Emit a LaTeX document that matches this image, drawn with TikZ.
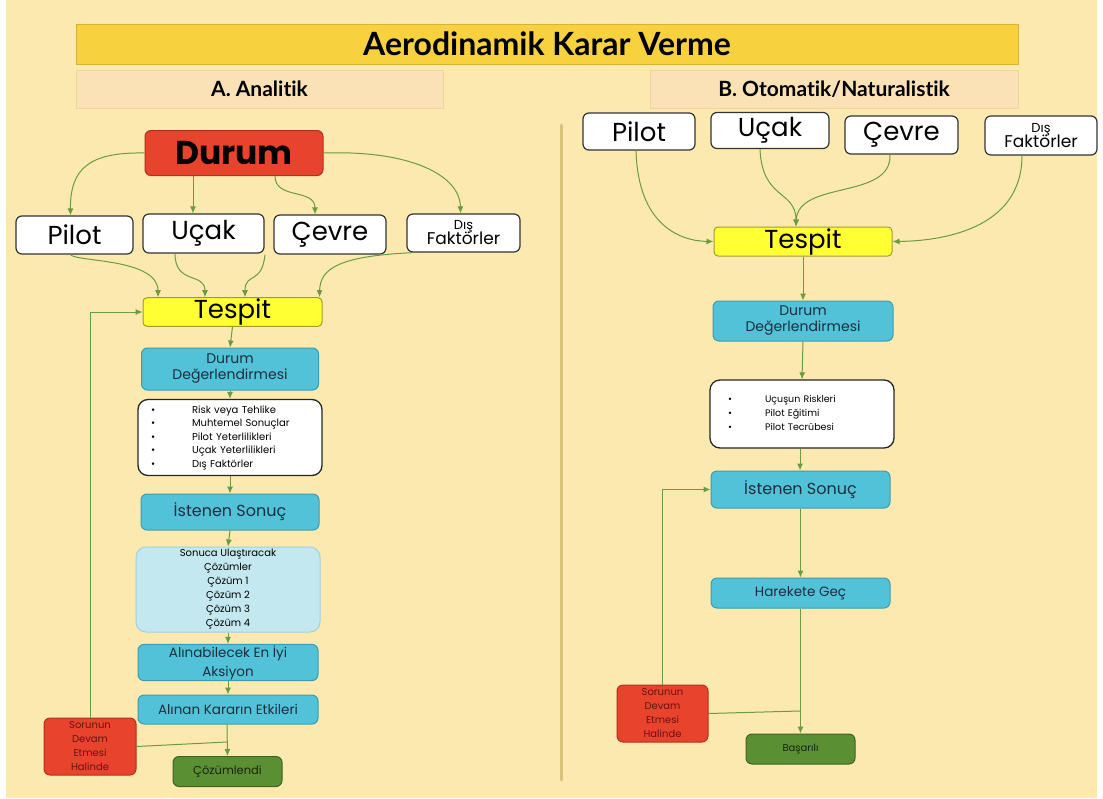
\documentclass[tikz,border=0pt]{standalone}
\usepackage{fontspec}
\usepackage{graphicx}
\setmainfont{Poppins}
\newfontfamily\hfont[Ligatures=NoCommon]{Lato}
\usetikzlibrary{arrows.meta,calc}
\definecolor{bgc}{HTML}{FBE9AF}
\definecolor{titlec}{HTML}{F7D23E}
\definecolor{titleb}{HTML}{D8B232}
\definecolor{subc}{HTML}{FAE2B6}
\definecolor{subb}{HTML}{EFD49C}
\definecolor{redc}{HTML}{E8432C}
\definecolor{redb}{HTML}{B3301E}
\definecolor{redt}{HTML}{6A1212}
\definecolor{cyanc}{HTML}{52C2D8}
\definecolor{cyanb}{HTML}{3A9CB2}
\definecolor{navy}{HTML}{1C2E3E}
\definecolor{lbc}{HTML}{C4E8F0}
\definecolor{lbb}{HTML}{9ED2DF}
\definecolor{yelc}{HTML}{FFFF33}
\definecolor{yelb}{HTML}{9C9C32}
\definecolor{grnc}{HTML}{5B8F34}
\definecolor{grnb}{HTML}{3C6420}
\definecolor{grnt}{HTML}{18260C}
\definecolor{arrc}{HTML}{6C9A3E}
\definecolor{divc}{HTML}{D9C27A}
\begin{document}
\begin{tikzpicture}[x=1pt,y=-1pt,
  box/.style={rounded corners=6pt, line width=1pt, inner sep=1pt, align=center},
  wbox/.style={box, fill=white, draw=black!80, line width=1.2pt},
  cbox/.style={box, fill=cyanc, draw=cyanb, text=navy},
  rbox/.style={box, fill=redc, draw=redb, text=redt},
  gbox/.style={box, fill=grnc, draw=grnb, text=grnt},
  ybox/.style={box, fill=yelc, draw=yelb, rounded corners=4pt},
  lbox/.style={box, fill=lbc, draw=lbb, text=black, rounded corners=10pt},
  listbox/.style={box, fill=white, draw=black!85, line width=1.3pt, rounded corners=10pt, align=left, text=black},
  hdr/.style={fill=subc, draw=subb, line width=0.8pt, font=\hfont\bfseries\fontsize{21}{24}\selectfont, text=black},
  arr/.style={draw=arrc, line width=1pt, -{Latex[length=7pt,width=6pt]}},
  ln/.style={draw=arrc, line width=1pt},
  big/.style={font=\fontsize{26}{30}\selectfont},
  mid/.style={font=\fontsize{14}{16}\selectfont},
  small/.style={font=\fontsize{10}{14}\selectfont}]
\useasboundingbox (0,0) rectangle (1103,798);
\fill[white] (0,0) rectangle (1103,798);
\fill[bgc] (6,0) rectangle (1097,798);

% headers
\node[fill=titlec, draw=titleb, line width=0.8pt, minimum width=942pt, minimum height=40pt,
  font=\hfont\bfseries\fontsize{32}{36}\selectfont] (title) at (547,44) {Aerodinamik Karar Verme};
\node[hdr, minimum width=367pt, minimum height=38pt] (hA) at (259.5,89) {A. Analitik};
\node[hdr, minimum width=368pt, minimum height=38pt] (hB) at (834,89) {B. Otomatik/Naturalistik};

% divider
\draw[divc, line width=3pt, line cap=round] (561,125) -- (561,780);

% ---------------- Left (A) ----------------
\node[rbox, text=black, minimum width=178pt, minimum height=45pt, font=\bfseries\fontsize{33}{36}\selectfont] (durL) at (234,153) {Durum};
\node[wbox, big, minimum width=117pt, minimum height=38pt] (pilL) at (74.5,235) {Pilot};
\node[wbox, big, minimum width=121pt, minimum height=39pt] (ucaL) at (203.5,233.5) {Uçak};
\node[wbox, big, minimum width=112pt, minimum height=39pt] (cevL) at (330,234.5) {Çevre};
\node[wbox, minimum width=113pt, minimum height=38pt] (disL) at (463.5,233)
  {{\fontsize{13}{13}\selectfont Dış}\\[-2pt]{\fontsize{17}{18}\selectfont Faktörler}};
\node[ybox, big, minimum width=179pt, minimum height=28pt] (tesL) at (232.5,312) {Tespit};
\node[cbox, mid, minimum width=177pt, minimum height=42pt] (ddL) at (230,369) {Durum\\Değerlendirmesi};
\node[listbox, minimum width=184pt, text width=176pt, minimum height=70pt, inner sep=4pt,
  font=\fontsize{10}{13.6}\selectfont] (lsL) at (230,437.5)
  {\begin{tabular}{@{\hspace{9pt}}p{41pt}@{}l@{}}
   \textbullet & Risk veya Tehlike\\
   \textbullet & Muhtemel Sonuçlar\\
   \textbullet & Pilot Yeterlilikleri\\
   \textbullet & Uçak Yeterlilikleri\\
   \textbullet & Dış Faktörler
   \end{tabular}};
\node[cbox, font=\fontsize{16}{18}\selectfont, minimum width=178pt, minimum height=36pt] (isL) at (230,512) {İstenen Sonuç};
\node[lbox, small, minimum width=184pt, minimum height=85pt] (soL) at (228,589.5)
  {Sonuca Ulaştıracak\\Çözümler\\Çözüm 1\\Çözüm 2\\Çözüm 3\\Çözüm 4};
\node[cbox, font=\fontsize{13.5}{19}\selectfont, minimum width=180pt, minimum height=36pt] (alL) at (228,662.5) {Alınabilecek En İyi\\Aksiyon};
\node[cbox, font=\fontsize{13.5}{16}\selectfont, minimum width=180pt, minimum height=29pt] (etL) at (228,709.5) {Alınan Kararın Etkileri};
\node[rbox, small, minimum width=92pt, minimum height=57pt] (sorL) at (90,746.5) {Sorunun\\Devam\\Etmesi\\Halinde};
\node[gbox, font=\fontsize{11.5}{14}\selectfont, minimum width=109pt, minimum height=30pt] (cozL) at (227.5,771.5) {Çözümlendi};
\coordinate (jL) at (227,742);

% arrows left
\draw[arr] (durL.west) .. controls (90,152) and (70,168) .. ([xshift=-4pt]pilL.north);
\draw[arr] ([xshift=-41pt]durL.south) -- ([xshift=-10.5pt]ucaL.north);
\draw[arr] ([xshift=41pt]durL.south) .. controls (275,200) and (315,188) .. ([xshift=-15pt]cevL.north);
\draw[arr] (durL.east) .. controls (410,150) and (460,175) .. ([xshift=-3pt]disL.north);
\draw[arr] ([xshift=-4pt]pilL.south) .. controls (75,262) and (158,258) .. ([xshift=-74.5pt]tesL.north);
\draw[arr] ([xshift=-28.5pt]ucaL.south) .. controls (175,285) and (205,272) .. ([xshift=-27.5pt]tesL.north);
\draw[arr] ([xshift=-65pt]cevL.south) .. controls (262,285) and (245,272) .. ([xshift=12.5pt]tesL.north);
\draw[arr] ([xshift=-50pt]disL.south) .. controls (340,256) and (320,268) .. ([xshift=87pt]tesL.north);
\draw[arr] (tesL.south) -- (ddL.north);
\draw[arr] (ddL.south) -- (lsL.north);
\draw[arr] (lsL.south) -- (isL.north);
\draw[arr] (isL.south) -- (soL.north);
\draw[arr] (soL.south) -- (alL.north);
\draw[arr] (alL.south) -- (etL.north);
\draw[arr] ([xshift=-1pt]etL.south) -- (cozL.north);
\draw[ln] (sorL.east) -- (jL);
\draw[arr] (sorL.north) |- (tesL.west);

% ---------------- Right (B) ----------------
\node[wbox, big, minimum width=112pt, minimum height=37pt] (pilR) at (639,131.5) {Pilot};
\node[wbox, big, minimum width=118pt, minimum height=36pt] (ucaR) at (770,130.5) {Uçak};
\node[wbox, big, minimum width=113pt, minimum height=38pt] (cevR) at (901.5,135) {Çevre};
\node[wbox, minimum width=112pt, minimum height=39pt] (disR) at (1041,135.5)
  {{\fontsize{13}{13}\selectfont Dış}\\[-2pt]{\fontsize{17}{18}\selectfont Faktörler}};
\node[ybox, big, minimum width=178pt, minimum height=29pt] (tesR) at (803,241.5) {Tespit};
\node[cbox, mid, minimum width=180pt, minimum height=40pt] (ddR) at (803,321) {Durum\\Değerlendirmesi};
\node[listbox, minimum width=184pt, text width=176pt, minimum height=68pt, inner sep=4pt,
  font=\fontsize{9.5}{14}\selectfont] (lsR) at (802,414)
  {\begin{tabular}{@{\hspace{14pt}}p{37pt}@{}l@{}}
   \textbullet & Uçuşun Riskleri\\
   \textbullet & Pilot Eğitimi\\
   \textbullet & Pilot Tecrübesi
   \end{tabular}};
\node[cbox, font=\fontsize{16}{18}\selectfont, minimum width=179pt, minimum height=37pt] (isR) at (800.5,489.5) {İstenen Sonuç};
\node[cbox, font=\fontsize{13.5}{16}\selectfont, minimum width=179pt, minimum height=30pt] (haR) at (800.5,593) {Harekete Geç};
\node[rbox, small, minimum width=91pt, minimum height=57pt] (sorR) at (662.5,713.5) {Sorunun\\Devam\\Etmesi\\Halinde};
\node[gbox, font=\fontsize{10}{12}\selectfont, minimum width=109pt, minimum height=30pt] (basR) at (800.5,749) {Başarılı};
\coordinate (jR) at (800,711);

% arrows right
\draw[arr] ([xshift=-3pt]pilR.south) .. controls (638,225) and (680,241) .. (tesR.west);
\draw[arr] ([xshift=-10pt]ucaR.south) .. controls (762,200) and (796,190) .. ([xshift=-7pt]tesR.north);
\draw[arr] ([xshift=-11.5pt]cevR.south) .. controls (892,200) and (798,180) .. ([xshift=-7pt]tesR.north);
\draw[arr] ([xshift=-19pt]disR.south) .. controls (1022,230) and (940,241) .. (tesR.east);
\draw[arr] (tesR.south) -- (ddR.north);
\draw[arr] (ddR.south) -- (lsR.north);
\draw[arr] ([xshift=-2pt]lsR.south) -- ([xshift=-0.5pt]isR.north);
\draw[arr] (isR.south) -- (haR.north);
\draw[arr] (haR.south) -- (basR.north);
\draw[ln] (sorR.east) -- (jR);
\draw[arr] (sorR.north) |- (isR.west);
\end{tikzpicture}
\end{document}
